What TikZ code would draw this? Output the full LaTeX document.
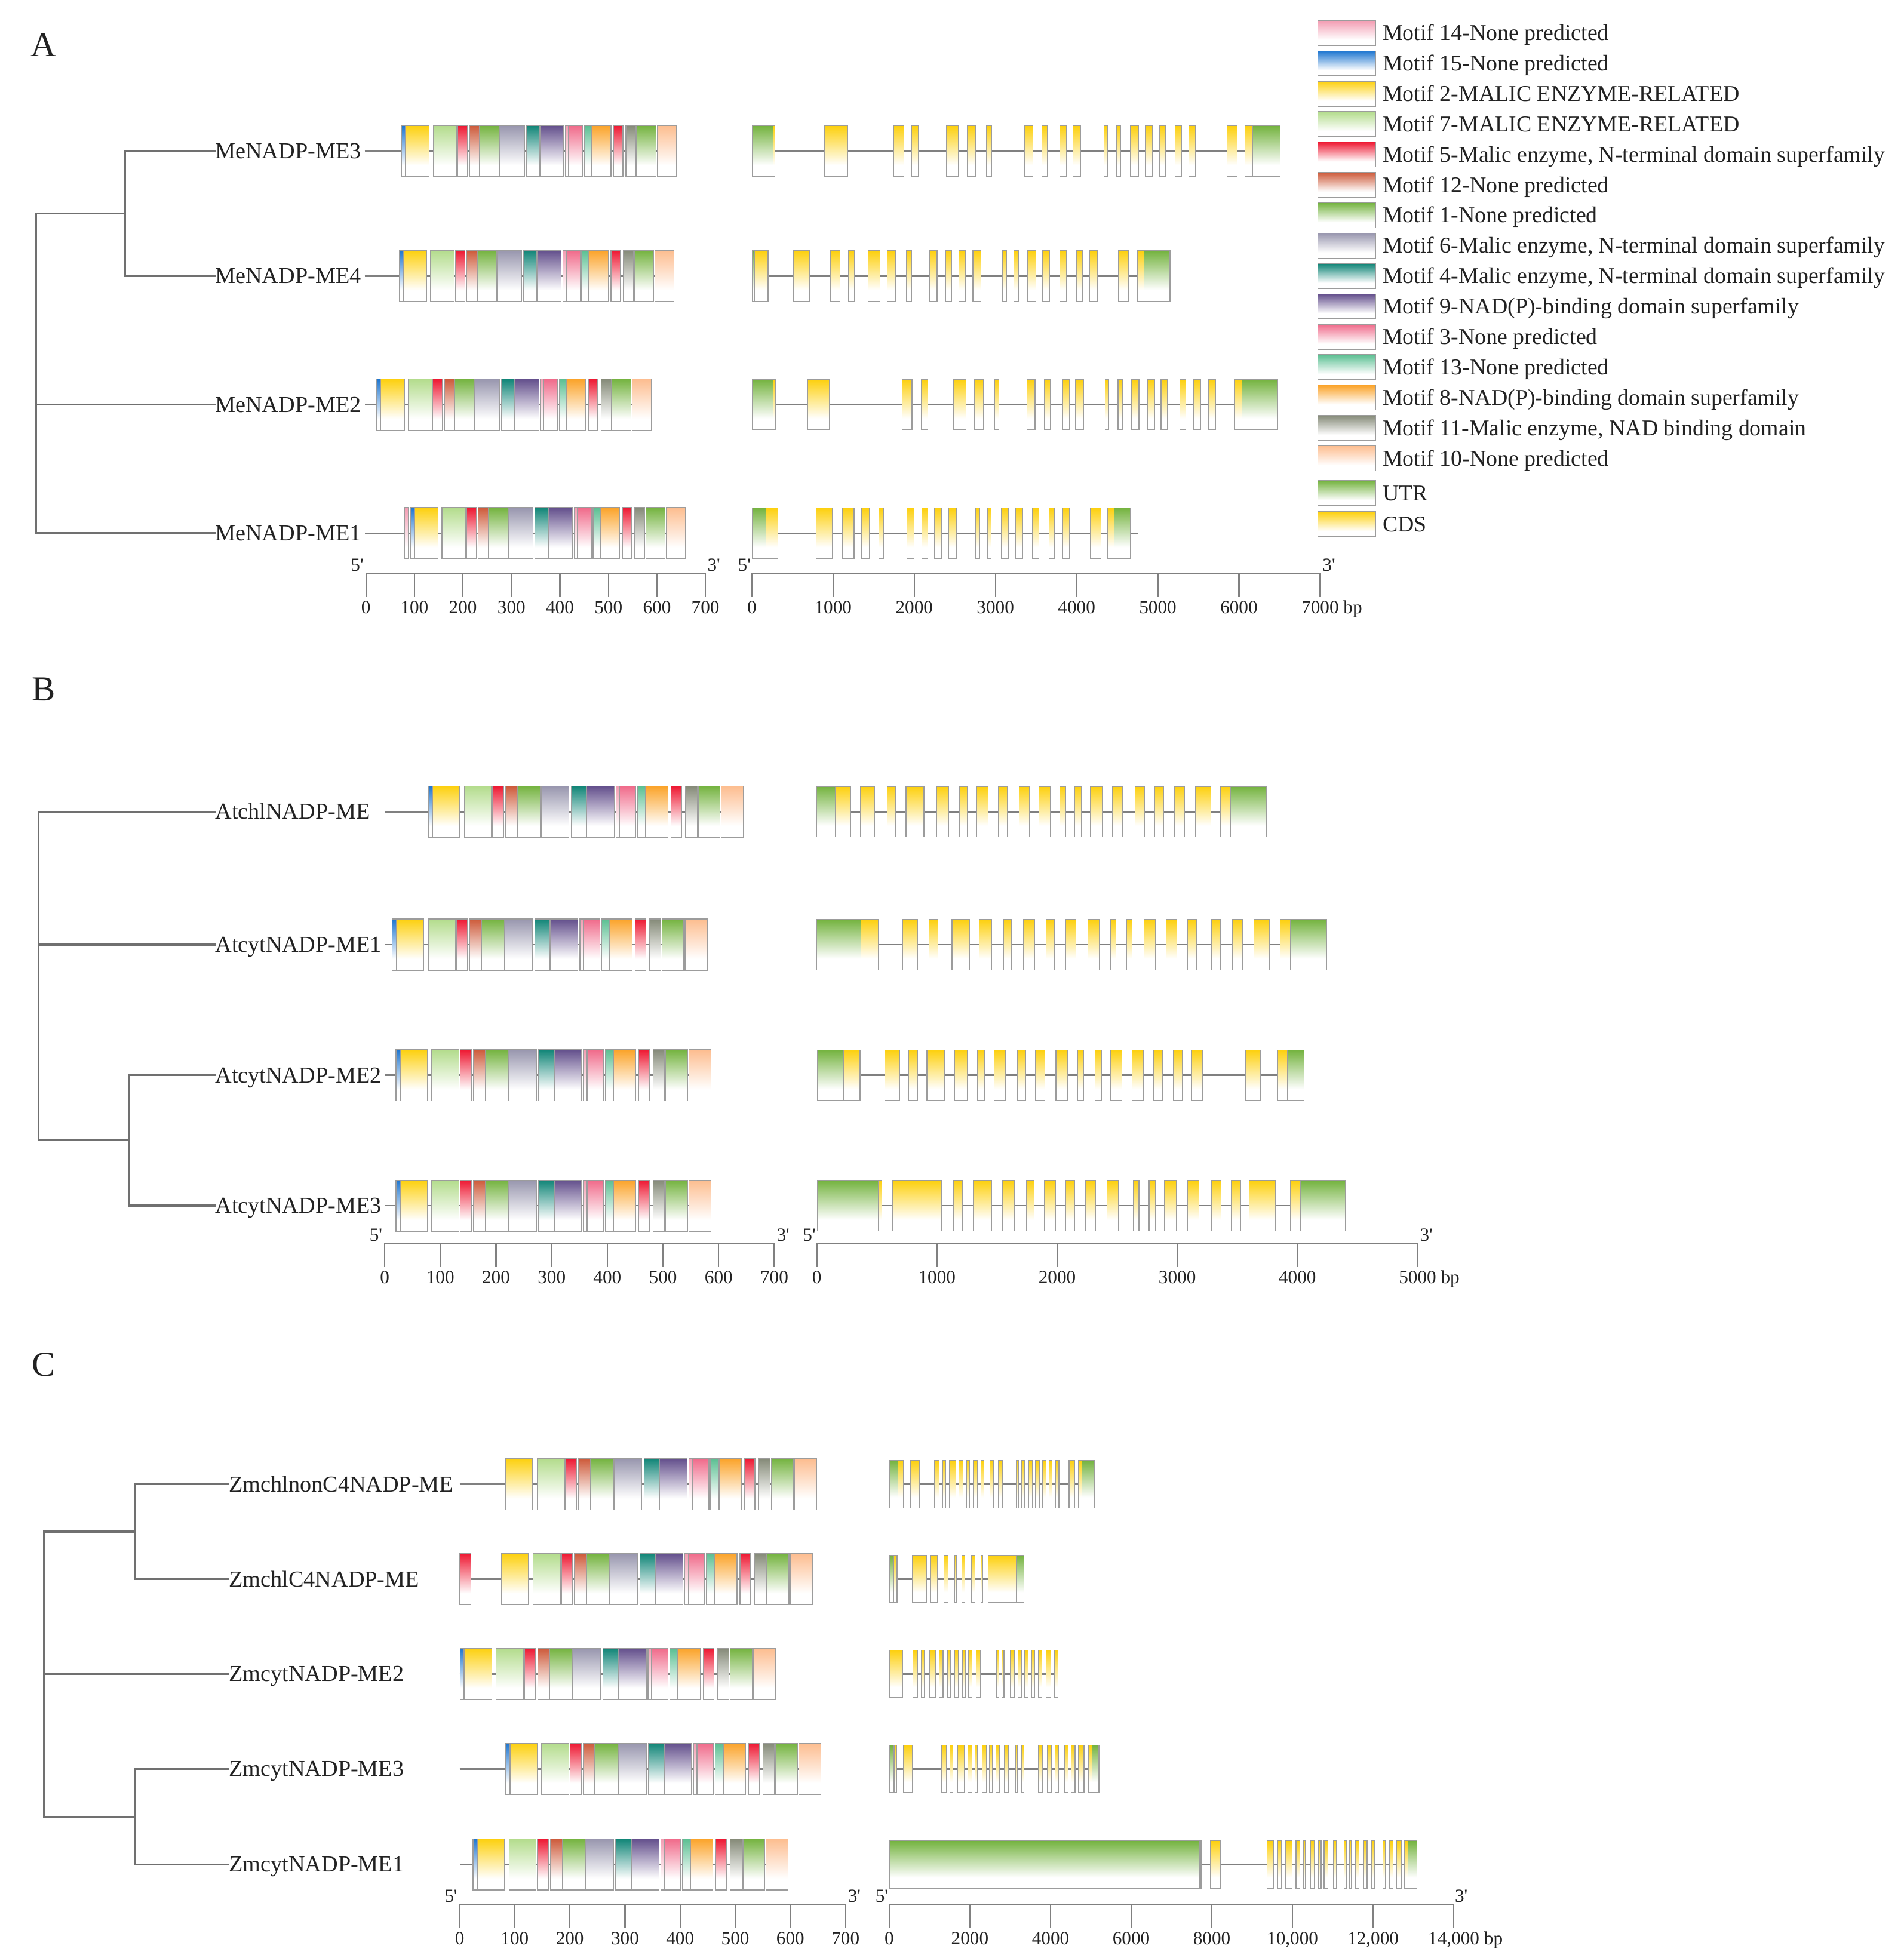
\documentclass[tikz,border=0pt]{standalone}
\usepackage{fontspec}
\setmainfont{Liberation Serif}
\definecolor{m14}{HTML}{F39CB2}
\definecolor{m15}{HTML}{1E76D0}
\definecolor{m2}{HTML}{FDD00E}
\definecolor{m7}{HTML}{B3DC8C}
\definecolor{m5}{HTML}{EE1832}
\definecolor{m12}{HTML}{CD5A3A}
\definecolor{m1}{HTML}{74B33F}
\definecolor{m6}{HTML}{9896AE}
\definecolor{m4}{HTML}{108577}
\definecolor{m9}{HTML}{634F8C}
\definecolor{m3}{HTML}{F06A8A}
\definecolor{m13}{HTML}{5BBF92}
\definecolor{m8}{HTML}{FBA329}
\definecolor{m11}{HTML}{858A78}
\definecolor{m10}{HTML}{FDBD8F}
\definecolor{cU}{HTML}{74B33F}
\definecolor{cC}{HTML}{FDD00E}
\definecolor{bordc}{HTML}{9C9C9C}
\definecolor{linec}{HTML}{808080}
\definecolor{treec}{HTML}{707070}
\definecolor{txtc}{HTML}{222222}
\tikzset{
  bx/.style={draw=bordc, line width=0.35pt},
  gline/.style={draw=linec, line width=0.75pt},
  tree/.style={draw=treec, line width=0.9pt, line cap=rect},
  axisl/.style={draw=linec, line width=0.6pt},
  lab/.style={inner sep=0pt, anchor=west, text height=6.9pt, text depth=0pt, font=\fontsize{10.4}{12}\selectfont, text=txtc},
  lgd/.style={inner sep=0pt, anchor=west, text height=6.8pt, text depth=0pt, font=\fontsize{10.3}{12}\selectfont, text=txtc},
  axlab/.style={inner sep=0pt, anchor=base, font=\fontsize{8.5}{10}\selectfont, text=txtc},
  panel/.style={inner sep=0pt, font=\fontsize{16}{18}\selectfont, text=txtc}
}
\newcommand\pr{\textquotesingle}
% x1 x2 yc half color
\newcommand\shbox[5]{%
  \fill[white] ({#1},{#3-#4}) rectangle ({#2},{#3+#4});
  \shade[top color=#5, bottom color=white] ({#1},{#3-#4}) rectangle ({#2},{#3+0.56*#4});
  \draw[bx] ({#1},{#3-#4}) rectangle ({#2},{#3+#4});
}
\def\fullpat{0/7/m15, 8/56.6/m2, 64.6/113.5/m7, 115.5/135.4/m5, 139.2/160.1/m12, 160.8/201.2/m1, 202.5/252.4/m6, 256.3/283.6/m4, 284.4/333.8/m9, 337.1/343.3/m14, 343.8/372.9/m3, 376/389.9/m13, 391.1/430.8/m8, 436.2/455.5/m5, 461.9/482.7/m11, 484.6/524/m1, 526.2/565.9/m10}
\def\nobluepat{8/56.6/m2, 64.6/113.5/m7, 115.5/135.4/m5, 139.2/160.1/m12, 160.8/201.2/m1, 202.5/252.4/m6, 256.3/283.6/m4, 284.4/333.8/m9, 337.1/343.3/m14, 343.8/372.9/m3, 376/389.9/m13, 391.1/430.8/m8, 436.2/455.5/m5, 461.9/482.7/m11, 484.6/524/m1, 526.2/565.9/m10}
% name yc x0 s base list linestart
\newcommand\protrow[7]{%
  \coordinate (#1s) at (#7,#2);
  \coordinate (#1e) at ({#3+(#5+565.9)*#4},#2);
  \draw[gline] (#1s) -- (#1e);
  \foreach \ms/\me/\mc in #6 {\shbox{#3+(#5+\ms)*#4}{#3+(#5+\me)*#4}{#2}{20.5}{\mc}}
}
% name yc half xs xe list
\newcommand\generow[6]{%
  \coordinate (#1s) at (#4,#2);
  \coordinate (#1e) at (#5,#2);
  \draw[gline] (#1s) -- (#1e);
  \foreach \ga/\gb/\gc in {#6} {\shbox{\ga}{\gb}{#2}{#3}{\gc}}
}
\begin{document}
\begin{tikzpicture}[x=0.2mm,y=-0.2mm]
\fill[white] (0,0) rectangle (1524,1568);
\useasboundingbox (0,0) rectangle (1524,1568);

% ---------------- panel letters
\node[panel] (pA) at (35,36) {A};
\node[panel] (pB) at (35,552) {B};
\node[panel] (pC) at (35,1093) {C};

% ---------------- legend
\foreach \i/\c/\t in {0/m14/{Motif 14-None predicted}, 1/m15/{Motif 15-None predicted}, 2/m2/{Motif 2-MALIC ENZYME-RELATED}, 3/m7/{Motif 7-MALIC ENZYME-RELATED}, 4/m5/{Motif 5-Malic enzyme, N-terminal domain superfamily}, 5/m12/{Motif 12-None predicted}, 6/m1/{Motif 1-None predicted}, 7/m6/{Motif 6-Malic enzyme, N-terminal domain superfamily}, 8/m4/{Motif 4-Malic enzyme, N-terminal domain superfamily}, 9/m9/{Motif 9-NAD(P)-binding domain superfamily}, 10/m3/{Motif 3-None predicted}, 11/m13/{Motif 13-None predicted}, 12/m8/{Motif 8-NAD(P)-binding domain superfamily}, 13/m11/{Motif 11-Malic enzyme, NAD binding domain}, 14/m10/{Motif 10-None predicted}}{
  \shbox{1055.2}{1101.6}{26.4+\i*24.33}{10}{\c}
  \node[lgd] (lg\i) at (1106.8,{26.4+\i*24.33}) {\t};
}
\shbox{1055.2}{1101.6}{395}{10}{cU}
\node[lgd] (lgU) at (1106.8,395) {UTR};
\shbox{1055.2}{1101.6}{419.8}{10}{cC}
\node[lgd] (lgC) at (1106.8,419.8) {CDS};

% ================= PANEL A =================
\node[lab] (lbA3) at (172,121) {MeNADP-ME3};
\node[lab] (lbA4) at (172,221) {MeNADP-ME4};
\node[lab] (lbA2) at (172,324) {MeNADP-ME2};
\node[lab] (lbA1) at (172,427) {MeNADP-ME1};
\coordinate (nA1) at (100,171);
\coordinate (nA0) at (29,171);
\draw[tree] (lbA3.west) -| (nA1) |- (lbA4.west);
\draw[tree] (nA1) -- (nA0) |- (lbA1.west);
\draw[tree] (nA0 |- lbA2.west) -- (lbA2.west);

\protrow{pA3}{121}{293}{0.3886}{73.9}{\fullpat}{292}
\protrow{pA4}{221}{293}{0.3886}{68.7}{\fullpat}{292}
\protrow{pA2}{324}{293}{0.3886}{22.4}{\fullpat}{292}
\protrow{pA1}{427}{293}{0.3886}{92.1}{\fullpat}{292}
\shbox{324.1}{326.8}{427}{20.5}{m14}

\generow{gA3}{121}{20.2}{602.4}{1025}{602.4/619.1/cU, 619.1/620.3/cC, 660.4/678.5/cC, 715.7/723.6/cC, 730.1/735.4/cC, 757.6/767.3/cC, 774.3/781.1/cC, 789.8/794.2/cC, 820.6/827.0/cC, 834.3/838.8/cC, 848.4/853.7/cC, 859.0/865.4/cC, 883.8/887.1/cC, 893.8/897.3/cC, 904.9/911.4/cC, 917.2/922.8/cC, 928.1/933.1/cC, 940.9/945.9/cC, 951.8/957.4/cC, 982.3/990.7/cC, 996.9/1002.8/cC, 1002.8/1025.0/cU}
\generow{gA4}{221}{20.2}{602.4}{936.8}{602.4/603.9/cU, 603.9/615.0/cC, 635.5/648.4/cC, 665.1/672.7/cC, 679.4/684.1/cC, 695.0/704.6/cC, 710.5/717.2/cC, 725.7/729.8/cC, 744.1/750.3/cC, 757.3/761.7/cC, 767.6/773.1/cC, 779.0/785.4/cC, 802.7/805.9/cC, 811.8/815.6/cC, 822.9/829.4/cC, 834.6/840.5/cC, 848.7/853.7/cC, 861.9/866.9/cC, 872.4/878.6/cC, 895.3/903.5/cC, 910.5/915.8/cC, 915.8/936.8/cU}
\generow{gA2}{324}{20.2}{602.4}{1023}{602.4/618.9/cU, 618.9/620.7/cC, 646.9/664.1/cC, 722.3/730.2/cC, 737.8/742.7/cC, 763.3/773.3/cC, 780.2/787.2/cC, 796.2/799.9/cC, 822.4/828.7/cC, 836.4/841.0/cC, 850.7/856.1/cC, 861.2/867.4/cC, 884.8/887.6/cC, 895.2/898.5/cC, 905.7/911.9/cC, 918.7/924.5/cC, 929.6/934.7/cC, 944.6/949.3/cC, 955.5/961.5/cC, 967.5/973.5/cC, 988.5/994.5/cC, 994.5/1023/cU}
\generow{gA1}{427}{20.2}{602.4}{911}{602.4/613.3/cU, 613.3/623.0/cC, 653.4/666.2/cC, 674.3/683.8/cC, 689.6/696.3/cC, 703.5/707.2/cC, 726.2/732.0/cC, 738.0/742.7/cC, 748.2/753.8/cC, 759.4/765.6/cC, 780.9/784.2/cC, 790.4/793.7/cC, 801.6/807.6/cC, 813.2/819.0/cC, 826.8/831.7/cC, 839.8/844.5/cC, 850.7/856.5/cC, 873.2/881.6/cC, 886.9/892.2/cC, 892.2/905.2/cU}

% axes A
\coordinate (axAm0) at (293,459); \coordinate (axAm1) at (564.8,459);
\draw[axisl] (axAm0) -- (axAm1);
\foreach \k/\t in {0/0,1/100,2/200,3/300,4/400,5/500,6/600,7/700}{
  \draw[axisl] ({293+\k*38.83},459) -- ({293+\k*38.83},477.5);
  \node[axlab] (axAmL\k) at ({293+\k*38.83},491.5) {\t};}
\node[axlab] (axAm5) at (286,457.5) {5\pr};
\node[axlab] (axAm3) at (571.5,457.5) {3\pr};
\coordinate (axAg0) at (602,459); \coordinate (axAg1) at (1057,459);
\draw[axisl] (axAg0) -- (axAg1);
\foreach \k/\t in {0/0,1/1000,2/2000,3/3000,4/4000,5/5000,6/6000,7/{7000\rlap{\ bp}}}{
  \draw[axisl] ({602+\k*65},459) -- ({602+\k*65},477.5);
  \node[axlab] (axAgL\k) at ({602+\k*65},491.5) {\t};}
\node[axlab] (axAg5) at (596,457.5) {5\pr};
\node[axlab] (axAg3) at (1064,457.5) {3\pr};

% ================= PANEL B =================
\node[lab] (lbB1) at (172,650) {AtchlNADP-ME};
\node[lab] (lbB2) at (172,756.5) {AtcytNADP-ME1};
\node[lab] (lbB3) at (172,861) {AtcytNADP-ME2};
\node[lab] (lbB4) at (172,965.5) {AtcytNADP-ME3};
\coordinate (nB0) at (31,913);
\coordinate (nB1) at (103,913);
\draw[tree] (lbB1.west) -| (nB0) -- (nB1);
\draw[tree] (lbB3.west) -| (nB1) |- (lbB4.west);
\draw[tree] (nB0 |- lbB2.west) -- (lbB2.west);

\protrow{pB1}{650}{308}{0.4457}{78.5}{\fullpat}{308}
\protrow{pB2}{756.5}{308}{0.4457}{13.5}{\fullpat}{308}
\protrow{pB3}{861}{308}{0.4457}{20.2}{\fullpat}{308}
\protrow{pB4}{965.5}{308}{0.4457}{20.2}{\fullpat}{308}

\generow{gB1}{650}{20.2}{654}{1014.3}{654/669/cU, 669/680.9/cC, 688.9/700.4/cC, 710.3/717.2/cC, 725.4/739.7/cC, 749.8/759.7/cC, 768.2/774.3/cC, 782.0/791.0/cC, 799.5/806.4/cC, 816.0/824.0/cC, 831.7/841.0/cC, 848.7/853.4/cC, 860.5/865.7/cC, 873.1/882.7/cC, 890.7/898.9/cC, 908.8/916.2/cC, 924.5/931.6/cC, 940.1/948.6/cC, 957.4/969.5/cC, 977.2/985.4/cC, 985.4/1014.3/cU}
\generow{gB2}{756.5}{20.2}{654}{1062.3}{654/689.4/cU, 689.4/703.2/cC, 722.7/734.7/cC, 743.8/750.9/cC, 762.2/776.5/cC, 783.9/794.1/cC, 803.4/809.7/cC, 819.3/828.4/cC, 837.4/844.3/cC, 853.1/861.3/cC, 870.9/880.3/cC, 889.1/893.5/cC, 902.0/906.4/cC, 916.0/925.3/cC, 933.5/942.1/cC, 950.6/958.3/cC, 970.1/977.2/cC, 986.5/995.0/cC, 1004.1/1016.2/cC, 1025.0/1033.0/cC, 1033.0/1062.3/cU}
\generow{gB3}{861}{20.2}{654.3}{1044.5}{654.3/675.3/cU, 675.3/688.6/cC, 708.4/720.1/cC, 727.7/734.8/cC, 742.2/756.4/cC, 764.3/774.6/cC, 782.5/788.5/cC, 796.1/805.2/cC, 814.3/821.4/cC, 829.0/836.7/cC, 845.5/854.8/cC, 862.8/867.6/cC, 876.7/881.8/cC, 888.9/898.3/cC, 906.5/915.3/cC, 923.5/930.6/cC, 939.7/946.8/cC, 954.1/962.7/cC, 997.0/1009.2/cC, 1022.8/1030.8/cC, 1030.8/1044.1/cU}
\generow{gB4}{965.5}{20.2}{654.3}{1077}{654.3/703.3/cU, 703.3/706.2/cC, 714.7/753.8/cC, 763.2/770.3/cC, 779.4/793.8/cC, 802.4/812.3/cC, 821.7/827.9/cC, 836.1/845.2/cC, 853.4/860.2/cC, 869.3/877.3/cC, 886.3/895.7/cC, 907.3/911.9/cC, 920.1/925.2/cC, 932.3/941.7/cC, 951.0/959.8/cC, 970.0/977.7/cC, 985.9/993.3/cC, 1000.1/1021.1/cC, 1033.3/1041.2/cC, 1041.2/1077.0/cU}

% axes B
\coordinate (axBm0) at (308,995.5); \coordinate (axBm1) at (620,995.5);
\draw[axisl] (axBm0) -- (axBm1);
\foreach \k/\t in {0/0,1/100,2/200,3/300,4/400,5/500,6/600,7/700}{
  \draw[axisl] ({308+\k*44.57},995.5) -- ({308+\k*44.57},1014);
  \node[axlab] (axBmL\k) at ({308+\k*44.57},1028) {\t};}
\node[axlab] (axBm5) at (301,994) {5\pr};
\node[axlab] (axBm3) at (627,994) {3\pr};
\coordinate (axBg0) at (654,995.5); \coordinate (axBg1) at (1135,995.5);
\draw[axisl] (axBg0) -- (axBg1);
\foreach \k/\t in {0/0,1/1000,2/2000,3/3000,4/4000,5/{5000\rlap{\ bp}}}{
  \draw[axisl] ({654+\k*96.2},995.5) -- ({654+\k*96.2},1014);
  \node[axlab] (axBgL\k) at ({654+\k*96.2},1028) {\t};}
\node[axlab] (axBg5) at (648,994) {5\pr};
\node[axlab] (axBg3) at (1142,994) {3\pr};

% ================= PANEL C =================
\node[lab] (lbC1) at (183,1188.5) {ZmchlnonC4NADP-ME};
\node[lab] (lbC2) at (183,1264.5) {ZmchlC4NADP-ME};
\node[lab] (lbC3) at (183,1340.5) {ZmcytNADP-ME2};
\node[lab] (lbC4) at (183,1416.5) {ZmcytNADP-ME3};
\node[lab] (lbC5) at (183,1493) {ZmcytNADP-ME1};
\coordinate (nCa) at (108,1226.5);
\coordinate (nCb) at (108,1454.75);
\coordinate (nCr1) at (35,1226.5);
\coordinate (nCr2) at (35,1454.75);
\draw[tree] (lbC1.west) -| (nCa) |- (lbC2.west);
\draw[tree] (lbC4.west) -| (nCb) |- (lbC5.west);
\draw[tree] (nCa) -- (nCr1) -- (nCr2) -- (nCb);
\draw[tree] (nCr1 |- lbC3.west) -- (lbC3.west);

\protrow{pC1}{1188.5}{368}{0.446}{74.7}{\nobluepat}{368}
\protrow{pC2}{1264.5}{368}{0.446}{67.1}{\nobluepat}{368}
\shbox{368.1}{377.1}{1264.5}{20.5}{m5}
\protrow{pC3}{1340.5}{368}{0.446}{1.1}{\fullpat}{368}
\protrow{pC4}{1416.5}{368}{0.446}{82.7}{\fullpat}{368}
\protrow{pC5}{1493}{368}{0.446}{24.0}{\fullpat}{368}

\generow{gC1}{1188.5}{19}{712.4}{876}{712.4/718.8/cU, 718.8/723.4/cC, 728.7/736.0/cC, 748.3/752.1/cC, 754.8/757.2/cC, 760.2/765.2/cC, 767.9/771.2/cC, 774.1/776.3/cC, 779.4/782.4/cC, 785.4/787.7/cC, 792.6/795.3/cC, 799.5/802.5/cC, 813.8/815.4/cC, 818.1/820.2/cC, 823.4/826.7/cC, 829.1/832.1/cC, 834.9/837.4/cC, 839.8/842.4/cC, 844.9/847.8/cC, 855.9/860.4/cC, 863.4/866.3/cC, 866.3/876.0/cU}
\generow{gC2}{1264.5}{19}{712.4}{819.9}{712.4/715.6/cU, 715.6/718.3/cC, 730.6/741.7/cC, 745.4/750.8/cC, 755.9/759.0/cC, 764.1/766.1/cC, 770.1/772.5/cC, 777.9/780.8/cC, 785.3/786.7/cC, 791.3/813.6/cC, 813.6/819.9/cU}
\generow{gC3}{1340.5}{19}{712.4}{847.4}{712.4/722.9/cC, 731.0/734.9/cC, 737.8/740.1/cC, 744.0/748.8/cC, 752.0/755.1/cC, 758.8/761.0/cC, 764.4/767.4/cC, 770.6/773.0/cC, 775.5/778.4/cC, 781.6/785.0/cC, 797.9/799.6/cC, 802.0/803.9/cC, 809.0/812.4/cC, 815.1/818.0/cC, 820.3/823.2/cC, 826.1/828.6/cC, 831.2/834.2/cC, 837.4/841.5/cC, 844.1/847.0/cC}
\generow{gC4}{1416.5}{19}{712.4}{879.8}{712.4/715.9/cU, 715.9/717.7/cC, 723.2/730.7/cC, 753.9/757.8/cC, 760.5/763.1/cC, 766.9/771.9/cC, 774.9/778.2/cC, 780.5/782.6/cC, 786.5/789.6/cC, 792.4/794.8/cC, 797.5/800.1/cC, 804.2/807.6/cC, 813.2/814.9/cC, 817.9/819.7/cC, 831.3/834.7/cC, 838.7/841.7/cC, 844.6/847.4/cC, 852.5/855.1/cC, 857.7/860.8/cC, 863.5/867.9/cC, 871.7/874.4/cC, 874.4/879.8/cU}
\generow{gC5}{1493}{19}{712.1}{1134.6}{712.1/960.7/cU, 960.7/961.6/cC, 968.9/977.2/cC, 1014.4/1019.9/cC, 1023.2/1026.0/cC, 1029.6/1034.5/cC, 1037.6/1040.9/cC, 1043.4/1045.2/cC, 1049.1/1052.2/cC, 1055.9/1057.7/cC, 1060.1/1063.2/cC, 1067.5/1070.2/cC, 1076.0/1077.8/cC, 1080.3/1082.1/cC, 1085.1/1088.2/cC, 1091.9/1094.6/cC, 1098.0/1100.4/cC, 1107.1/1109.3/cC, 1112.6/1115.3/cC, 1118.1/1121.8/cC, 1124.5/1127.2/cC, 1127.2/1134.6/cU}

% axes C
\coordinate (axCm0) at (368,1525); \coordinate (axCm1) at (677,1525);
\draw[axisl] (axCm0) -- (axCm1);
\foreach \k/\t in {0/0,1/100,2/200,3/300,4/400,5/500,6/600,7/700}{
  \draw[axisl] ({368+\k*44.14},1525) -- ({368+\k*44.14},1543.5);
  \node[axlab] (axCmL\k) at ({368+\k*44.14},1557) {\t};}
\node[axlab] (axCm5) at (361,1523.5) {5\pr};
\node[axlab] (axCm3) at (684,1523.5) {3\pr};
\coordinate (axCg0) at (712,1525); \coordinate (axCg1) at (1164,1525);
\draw[axisl] (axCg0) -- (axCg1);
\foreach \k/\t in {0/0,1/2000,2/4000,3/6000,4/8000,5/{10,000},6/{12,000},7/{14,000\rlap{\ bp}}}{
  \draw[axisl] ({712+\k*64.57},1525) -- ({712+\k*64.57},1543.5);
  \node[axlab] (axCgL\k) at ({712+\k*64.57},1557) {\t};}
\node[axlab] (axCg5) at (706,1523.5) {5\pr};
\node[axlab] (axCg3) at (1170,1523.5) {3\pr};
\end{tikzpicture}
\end{document}
